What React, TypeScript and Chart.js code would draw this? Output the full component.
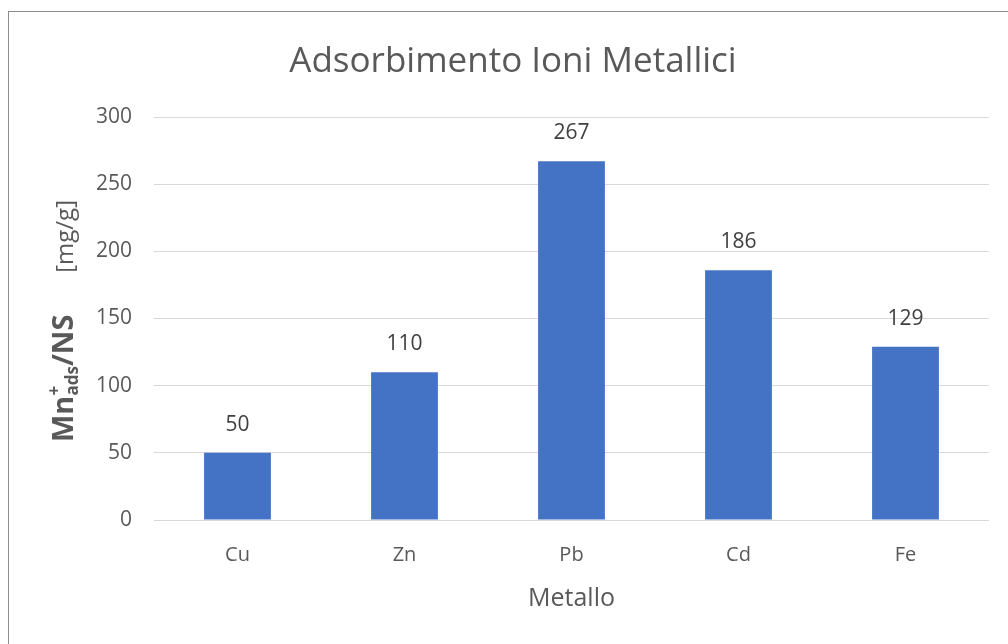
import React, { useEffect, useRef } from "react";
import { Chart, registerables } from "chart.js";

Chart.register(...registerables);

const categories = ["Cu", "Zn", "Pb", "Cd", "Fe"];
const values = [50, 110, 267, 186, 129];
const yMin = 0;
const yMax = 300;
const yStep = 50;
const chartTitle = "Adsorbimento Ioni Metallici";
const xTitle = "Metallo";
const yTitleMain = "Mn";
const yTitleSup = "+";
const yTitleSub = "ads";
const yTitleRest = "/NS";
const yTitleUnit = "[mg/g]";

const FONT = "'Open Sans', 'Noto Sans', sans-serif";
const TEXT = "#595959";
const LABEL = "#404040";
const BAR = "#4472C4";
const GRID = "#D9D9D9";

const decorPlugin = {
  id: "decor",
  afterDraw(chart: any) {
    const ctx = chart.ctx as CanvasRenderingContext2D;
    const w = chart.width;
    const h = chart.height;
    ctx.save();
    // chart border
    ctx.strokeStyle = "#8C8C8C";
    ctx.lineWidth = 1;
    ctx.strokeRect(0.5, 3.5, w - 1, h + 20);

    // title
    ctx.fillStyle = TEXT;
    ctx.font = `35px ${FONT}`;
    ctx.textAlign = "center";
    ctx.textBaseline = "middle";
    ctx.fillText(chartTitle, 505, 54);

    // data labels
    const meta = chart.getDatasetMeta(0);
    ctx.fillStyle = LABEL;
    ctx.font = `21px ${FONT}`;
    meta.data.forEach((bar: any, i: number) => {
      ctx.fillText(String(values[i]), bar.x, bar.y - 28);
    });

    // y axis title (rich text, rotated)
    const yScale = chart.scales.y;
    const cy = (yScale.top + yScale.bottom) / 2;
    ctx.translate(55, cy);
    ctx.rotate(-Math.PI / 2);
    ctx.textAlign = "left";
    ctx.textBaseline = "alphabetic";
    const big = `bold 29px ${FONT}`;
    const small = `bold 17px ${FONT}`;
    const unitF = `24px ${FONT}`;
    ctx.font = big;
    const wMain = ctx.measureText(yTitleMain).width;
    const wRest = ctx.measureText(yTitleRest).width;
    ctx.font = small;
    const wSub = ctx.measureText(yTitleSub).width;
    ctx.font = unitF;
    const wUnit = ctx.measureText(yTitleUnit).width;
    const startX = -(434 - cy);
    const endX = cy - 192;
    let x = startX;
    const base = 10;
    ctx.fillStyle = TEXT;
    ctx.font = big;
    ctx.fillText(yTitleMain, x, base);
    x += wMain;
    ctx.font = small;
    ctx.fillText(yTitleSup, x, base - 13);
    ctx.fillText(yTitleSub, x, base + 5);
    x += wSub;
    ctx.font = big;
    ctx.fillText(yTitleRest, x, base);
    ctx.font = unitF;
    ctx.fillText(yTitleUnit, endX - wUnit, base);
    ctx.restore();
  },
};

export default function App() {
  const ref = useRef<HTMLCanvasElement>(null);
  useEffect(() => {
    if (!ref.current) return;
    const chart = new Chart(ref.current, {
      type: "bar",
      data: {
        labels: categories,
        datasets: [
          {
            data: values,
            backgroundColor: BAR,
            borderWidth: 0,
            barPercentage: 1,
            categoryPercentage: 0.4,
          },
        ],
      },
      options: {
        responsive: true,
        maintainAspectRatio: false,
        animation: false,
        layout: { padding: { left: 0, right: 29, top: 109, bottom: 0 } },
        plugins: {
          legend: { display: false },
          title: { display: false },
          tooltip: { enabled: false },
        },
        scales: {
          x: {
            grid: { display: false, drawTicks: false },
            border: { display: false },
            ticks: { color: TEXT, font: { family: FONT, size: 20 }, padding: 23 },
            title: {
              display: true,
              text: xTitle,
              color: TEXT,
              font: { family: FONT, size: 25 },
              padding: { top: 34, bottom: 34 },
            },
            afterFit: (s: any) => {
              s.height = 128;
            },
          },
          y: {
            min: yMin,
            max: yMax,
            ticks: {
              stepSize: yStep,
              color: TEXT,
              font: { family: FONT, size: 21 },
              padding: 22,
            },
            grid: { color: GRID, lineWidth: 1, drawTicks: false },
            border: { display: false },
            afterFit: (s: any) => {
              s.width = 146;
            },
          },
        },
      },
      plugins: [decorPlugin],
    });
    return () => chart.destroy();
  }, []);
  return (
    <div
      style={{
        position: "fixed",
        left: 8,
        top: 8,
        width: 1000,
        height: 636,
        overflow: "hidden",
        background: "#fff",
      }}
    >
      <div style={{ position: "relative", width: 1010, height: 640 }}>
        <canvas ref={ref} />
      </div>
    </div>
  );
}
